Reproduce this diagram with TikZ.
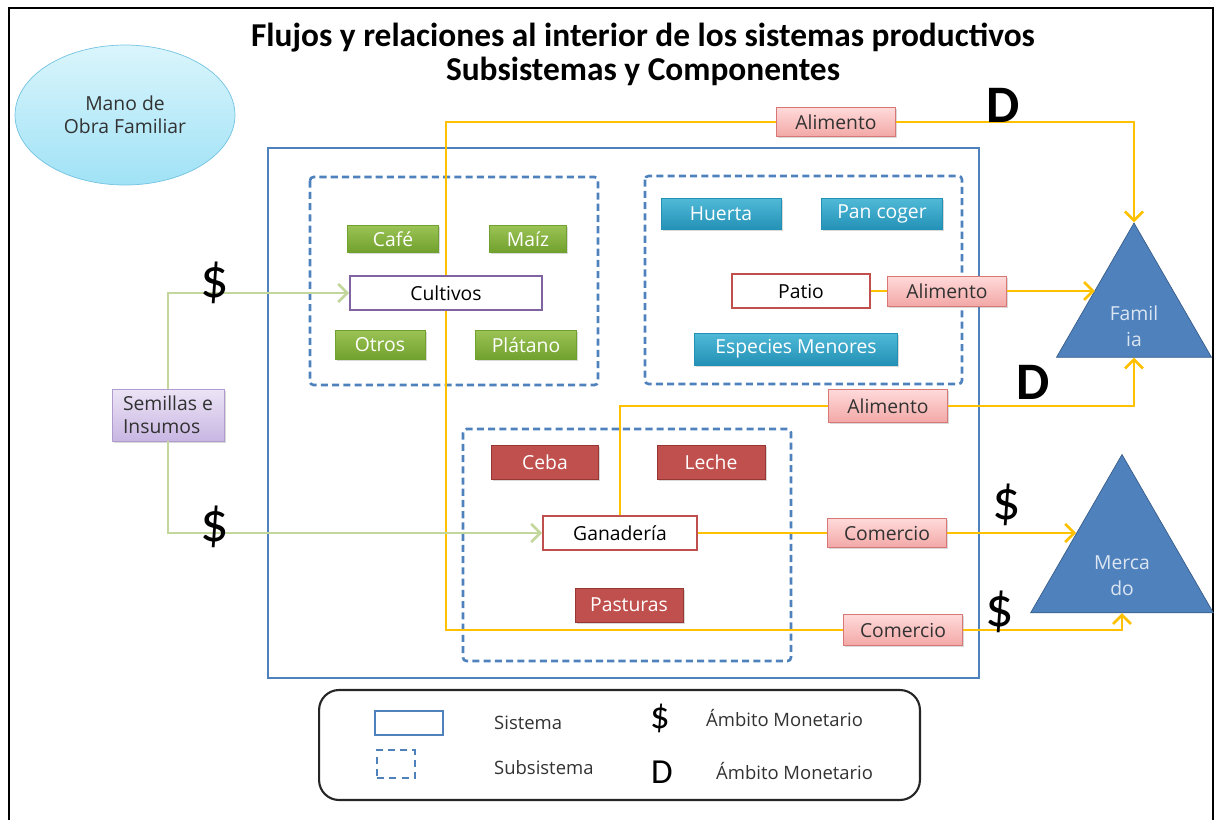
\documentclass[tikz,border=0pt]{standalone}
\usepackage{fontspec}
\setmainfont{Open Sans}
\newfontfamily\titlefont{Carlito}
\usetikzlibrary{arrows.meta,shapes.geometric,shadows}
\definecolor{sysblue}{RGB}{79,129,189}
\definecolor{triedge}{RGB}{56,93,138}
\definecolor{flowyel}{RGB}{255,192,0}
\definecolor{inpgreen}{RGB}{195,214,155}
\definecolor{croptop}{RGB}{155,195,85}
\definecolor{cropbot}{RGB}{112,160,45}
\definecolor{tealtop}{RGB}{80,185,215}
\definecolor{tealbot}{RGB}{35,145,182}
\definecolor{ganred}{RGB}{192,80,77}
\definecolor{ganedge}{RGB}{150,55,52}
\definecolor{pinktop}{RGB}{255,218,218}
\definecolor{pinkbot}{RGB}{242,168,166}
\definecolor{pinkedge}{RGB}{215,120,118}
\definecolor{lilatop}{RGB}{236,228,246}
\definecolor{lilabot}{RGB}{200,182,226}
\definecolor{lilaedge}{RGB}{175,155,205}
\definecolor{cultedge}{RGB}{128,100,162}
\definecolor{skytop}{RGB}{218,245,252}
\definecolor{skybot}{RGB}{160,226,246}
\definecolor{skyedge}{RGB}{115,195,225}
\definecolor{darktxt}{RGB}{50,50,50}

\begin{document}
\begin{tikzpicture}[x=0.02cm, y=-0.02cm,
  shad/.style={drop shadow={shadow xshift=1pt, shadow yshift=-1pt, opacity=.3}},
  box/.style={draw, inner sep=0pt, font=\fontsize{11}{13}\selectfont, shad},
  crop/.style={box, draw=cropbot, top color=croptop, bottom color=cropbot, text=white},
  yard/.style={box, draw=tealbot, top color=tealtop, bottom color=tealbot, text=white},
  herd/.style={box, draw=ganedge, fill=ganred, text=white},
  hub/.style={draw, fill=white, line width=1.1pt, inner sep=0pt, font=\fontsize{11}{13}\selectfont, minimum height=0.68cm},
  lab/.style={box, draw=pinkedge, top color=pinktop, bottom color=pinkbot, text=darktxt, minimum width=2.38cm},
  subsys/.style={draw=sysblue, line width=1.5pt, dash pattern=on 4pt off 2.4pt, rounded corners=2pt},
  tri/.style={regular polygon, regular polygon sides=3, draw=triedge, fill=sysblue, inner sep=0pt},
  tritxt/.style={text=white!80!sysblue, font=\fontsize{11}{15}\selectfont, align=center},
  flow/.style={draw=flowyel, line width=1.5pt},
  arr/.style={flow, -{Straight Barb[length=1.8mm, width=3.6mm]}},
  inp/.style={draw=inpgreen, line width=1.5pt, -{Straight Barb[length=1.8mm, width=3.6mm]}},
  money/.style={font=\fontsize{32}{32}\selectfont\titlefont},
  dom/.style={font=\fontsize{30}{30}\selectfont\titlefont\bfseries},
  titlef/.style={font=\fontsize{19}{20}\selectfont\titlefont\bfseries},
  legtxt/.style={anchor=west, font=\fontsize{10.5}{12}\selectfont, text=darktxt},
]
\useasboundingbox (0,0) rectangle (1220,819);
\draw[line width=1.3pt] (9,8) rectangle (1213,840);

% titulo
\node[titlef] (tit1) at (643,38) {Flujos y relaciones al interior de los sistemas productivos};
\node[titlef] (tit2) at (643,71) {Subsistemas y Componentes};

% sistema y subsistemas
\draw[sysblue, line width=1.4pt] (268,148) rectangle (979,678);
\draw[subsys] (310,177) rectangle (598,385);
\draw[subsys] (645,176) rectangle (962,384);
\draw[subsys] (463,429) rectangle (791,661);

% entradas y salidas
\node[draw=skyedge, ellipse, top color=skytop, bottom color=skybot, minimum width=4.4cm, minimum height=2.8cm,
  align=center, text=darktxt, font=\fontsize{11}{13}\selectfont] (mano) at (125,115) {Mano de\\Obra Familiar};
\node[box, draw=lilaedge, top color=lilatop, bottom color=lilabot, text=darktxt, align=left,
  minimum width=2.24cm, minimum height=1.04cm] (sem) at (168,415) {Semillas e\\Insumos};
\node[tri, minimum size=3.58cm, label={[tritxt, yshift=-8pt]center:Famil\\ia}] (fam) at (1134,312.5) {};
\node[tri, minimum size=4.22cm, label={[tritxt, yshift=-9pt]center:Merca\\do}] (merc) at (1122,560) {};

% cultivos
\node[hub, draw=cultedge, minimum width=3.84cm] (cult) at (446,293) {Cultivos};
\node[crop, minimum width=1.82cm, minimum height=0.54cm] (cafe) at (393,239) {Café};
\node[crop, minimum width=1.54cm, minimum height=0.54cm] (maiz) at (528,239) {Maíz};
\node[crop, minimum width=1.80cm, minimum height=0.58cm] (otros) at (380,345) {Otros};
\node[crop, minimum width=2.02cm, minimum height=0.58cm] (platano) at (526,345) {Plátano};

% patio
\node[hub, draw=ganred, minimum width=2.76cm] (patio) at (801,291) {Patio};
\node[yard, minimum width=2.40cm, minimum height=0.62cm] (huerta) at (721,214) {Huerta};
\node[yard, minimum width=2.42cm, minimum height=0.62cm] (pancoger) at (882,214) {Pan coger};
\node[yard, minimum width=4.06cm, minimum height=0.64cm] (especies) at (796,349) {Especies Menores};

% ganaderia
\node[hub, draw=ganred, minimum width=3.08cm] (gan) at (620,533) {Ganadería};
\node[herd, minimum width=2.14cm, minimum height=0.68cm] (ceba) at (545,462) {Ceba};
\node[herd, minimum width=2.16cm, minimum height=0.68cm] (leche) at (711,462) {Leche};
\node[herd, minimum width=2.16cm, minimum height=0.68cm] (pasturas) at (629,605) {Pasturas};

% etiquetas de flujo
\node[lab, minimum height=0.58cm] (alim1) at (836,122) {Alimento};
\node[lab, minimum height=0.60cm] (alim2) at (947,291) {Alimento};
\node[lab, minimum height=0.66cm] (alim3) at (888,406) {Alimento};
\node[lab, minimum height=0.58cm] (com1) at (887,533) {Comercio};
\node[lab, minimum height=0.62cm] (com2) at (903,630) {Comercio};

% flujos
\draw[flow] (cult.north) |- (alim1.west);
\draw[arr] (alim1.east) -| (fam.corner 1);
\draw[flow] (patio.east) -- (alim2.west);
\draw[arr] (alim2.east) -- (alim2.east -| fam.side 1);
\draw[flow] (gan.north) |- (alim3.west);
\draw[arr] (alim3.east) -| (fam.south);
\draw[flow] (gan.east) -- (com1.west);
\draw[arr] (com1.east) -- (com1.east -| merc.side 1);
\draw[flow] (cult.south) |- (com2.west);
\draw[arr] (com2.east) -| (merc.south);
\draw[inp] (sem.north) |- (cult.west);
\draw[inp] (sem.south) |- (gan.west);

% ambitos
\node[money] (dol1) at (215,283) {\$};
\node[money] (dol2) at (215,527) {\$};
\node[money] (dol3) at (1007,505) {\$};
\node[money] (dol4) at (1000,612) {\$};
\node[dom] (dd1) at (1003,105) {D};
\node[dom] (dd2) at (1033,382) {D};

% leyenda
\node[draw=black!85, line width=1.2pt, rounded corners=0.4cm, minimum width=12.02cm, minimum height=2.2cm] (leg) at (619.5,745) {};
\node[draw=sysblue, line width=1.4pt, minimum width=1.36cm, minimum height=0.48cm] (legsis) at (409,723) {};
\node[draw=sysblue, line width=1.4pt, dash pattern=on 4pt off 3pt, minimum width=0.76cm, minimum height=0.56cm] (legsub) at (396,764) {};
\node[legtxt] (txtsis) at (488,723) {Sistema};
\node[legtxt] (txtsub) at (488,768) {Subsistema};
\node[font=\fontsize{22}{22}\selectfont\titlefont] (ldol) at (660,718) {\$};
\node[font=\fontsize{20}{20}\selectfont\titlefont] (ldd) at (662,772) {D};
\node[legtxt] (txtmon1) at (700,718) {Ámbito Monetario};
\node[legtxt] (txtmon2) at (710,771) {Ámbito Monetario};
\end{tikzpicture}
\end{document}
